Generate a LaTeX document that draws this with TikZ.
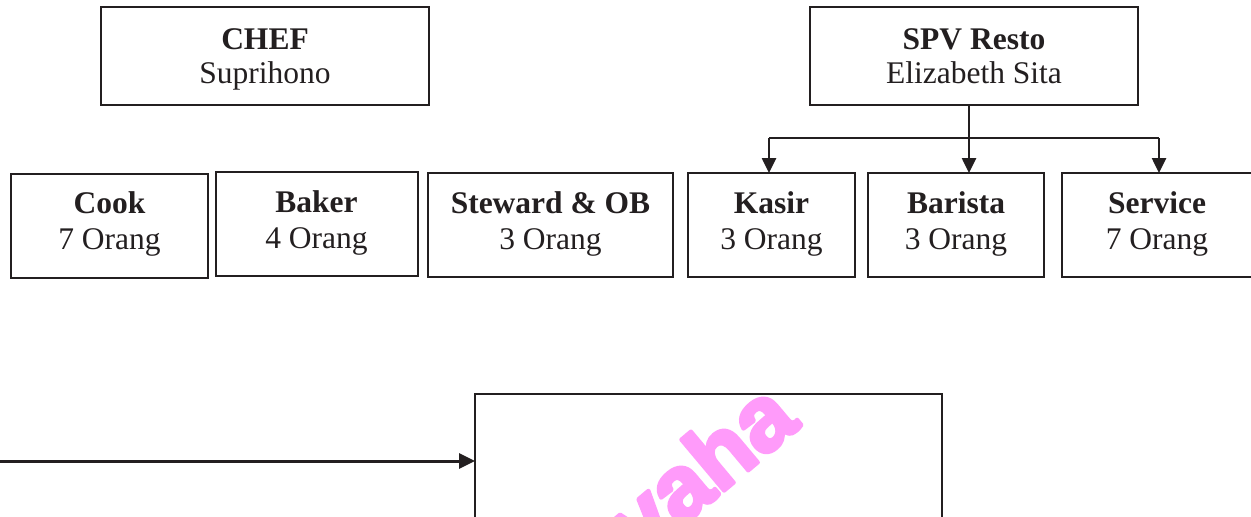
\documentclass[tikz,border=0pt]{standalone}
\usepackage{fontspec}
\setmainfont{Liberation Serif}
\newfontfamily\wmfont{Liberation Sans Bold}
\usetikzlibrary{arrows.meta}
\definecolor{wmpink}{RGB}{255,155,250}
\definecolor{ink}{RGB}{35,31,32}
\newcommand{\heavytext}[1]{\special{pdf:literal 2 Tr 4 w 1 j}#1\special{pdf:literal 0 Tr}}
\begin{document}
\begin{tikzpicture}[x=1pt,y=-1pt,
  box/.style={draw=ink,line width=2pt,inner sep=0pt,outer sep=0pt,anchor=north west},
  hd/.style={anchor=base,inner sep=0pt,text=ink,font=\fontsize{31.5}{34}\selectfont\bfseries},
  sub/.style={anchor=base,inner sep=0pt,text=ink,font=\fontsize{31.5}{34}\selectfont},
  busline/.style={draw=ink,line width=2.6pt},
  stemline/.style={draw=ink,line width=1.4pt},
  arr/.style={draw=ink,line width=2.6pt,-{Triangle[length=15pt,width=14pt]}},
  arrB/.style={draw=ink,line width=3pt,-{Triangle[length=16pt,width=15pt]}},
  wm/.style={text=wmpink,inner sep=0pt,font=\wmfont\fontsize{92}{92}\selectfont}
]
\useasboundingbox (0,0) rectangle (1251,517);
\clip (0,0) rectangle (1251,517);
\fill[white] (0,0) rectangle (1251,517);

% watermark
\node[wm,rotate=40] (mark) at (700,468) {\heavytext{vaha}};

% top boxes
\node[box,minimum width=328pt,minimum height=98pt] (chef) at (101,7) {};
\node[hd]  (chefA) at (265,49) {CHEF};
\node[sub] (chefB) at (265,83) {Suprihono};

\node[box,minimum width=328pt,minimum height=98pt] (spv) at (810,7) {};
\node[hd]  (spvA) at (974,49) {SPV Resto};
\node[sub] (spvB) at (974,83) {Elizabeth Sita};

% bottom row
\node[box,minimum width=197pt,minimum height=104pt] (cook) at (11,174) {};
\node[hd]  (cookA) at (109.5,213) {Cook};
\node[sub] (cookB) at (109.5,249) {7 Orang};

\node[box,minimum width=202pt,minimum height=104pt] (baker) at (216,172) {};
\node[hd]  (bakerA) at (316.5,212) {Baker};
\node[sub] (bakerB) at (316.5,248) {4 Orang};

\node[box,minimum width=245pt,minimum height=104pt] (steward) at (428,173) {};
\node[hd]  (stewardA) at (550.5,213) {Steward \& OB};
\node[sub] (stewardB) at (550.5,249) {3 Orang};

\node[box,minimum width=167pt,minimum height=104pt] (kasir) at (688,173) {};
\node[hd]  (kasirA) at (771.5,213) {Kasir};
\node[sub] (kasirB) at (771.5,249) {3 Orang};

\node[box,minimum width=176pt,minimum height=104pt] (barista) at (868,173) {};
\node[hd]  (baristaA) at (956,213) {Barista};
\node[sub] (baristaB) at (956,249) {3 Orang};

\node[box,minimum width=191pt,minimum height=104pt] (service) at (1062,173) {};
\node[hd]  (serviceA) at (1157,213) {Service};
\node[sub] (serviceB) at (1157,249) {7 Orang};

% connectors from SPV
\coordinate (stem) at (969,138);
\coordinate (busL) at (769,138);
\coordinate (busR) at (1159,138);
\draw[stemline] (stem |- spv.south) -- (stem);
\draw[busline] (busL) -- (busR);
\draw[arr] (busL) -- (busL |- kasir.north);
\draw[arr] (stem) -- (stem |- barista.north);
\draw[arr] (busR) -- (busR |- service.north);

% lower box and arrow
\node[box,minimum width=467pt,minimum height=200pt] (lower) at (475,394) {};
\coordinate (inlet) at (0,461);
\draw[arrB] (inlet) -- (inlet -| lower.west);
\end{tikzpicture}
\end{document}
